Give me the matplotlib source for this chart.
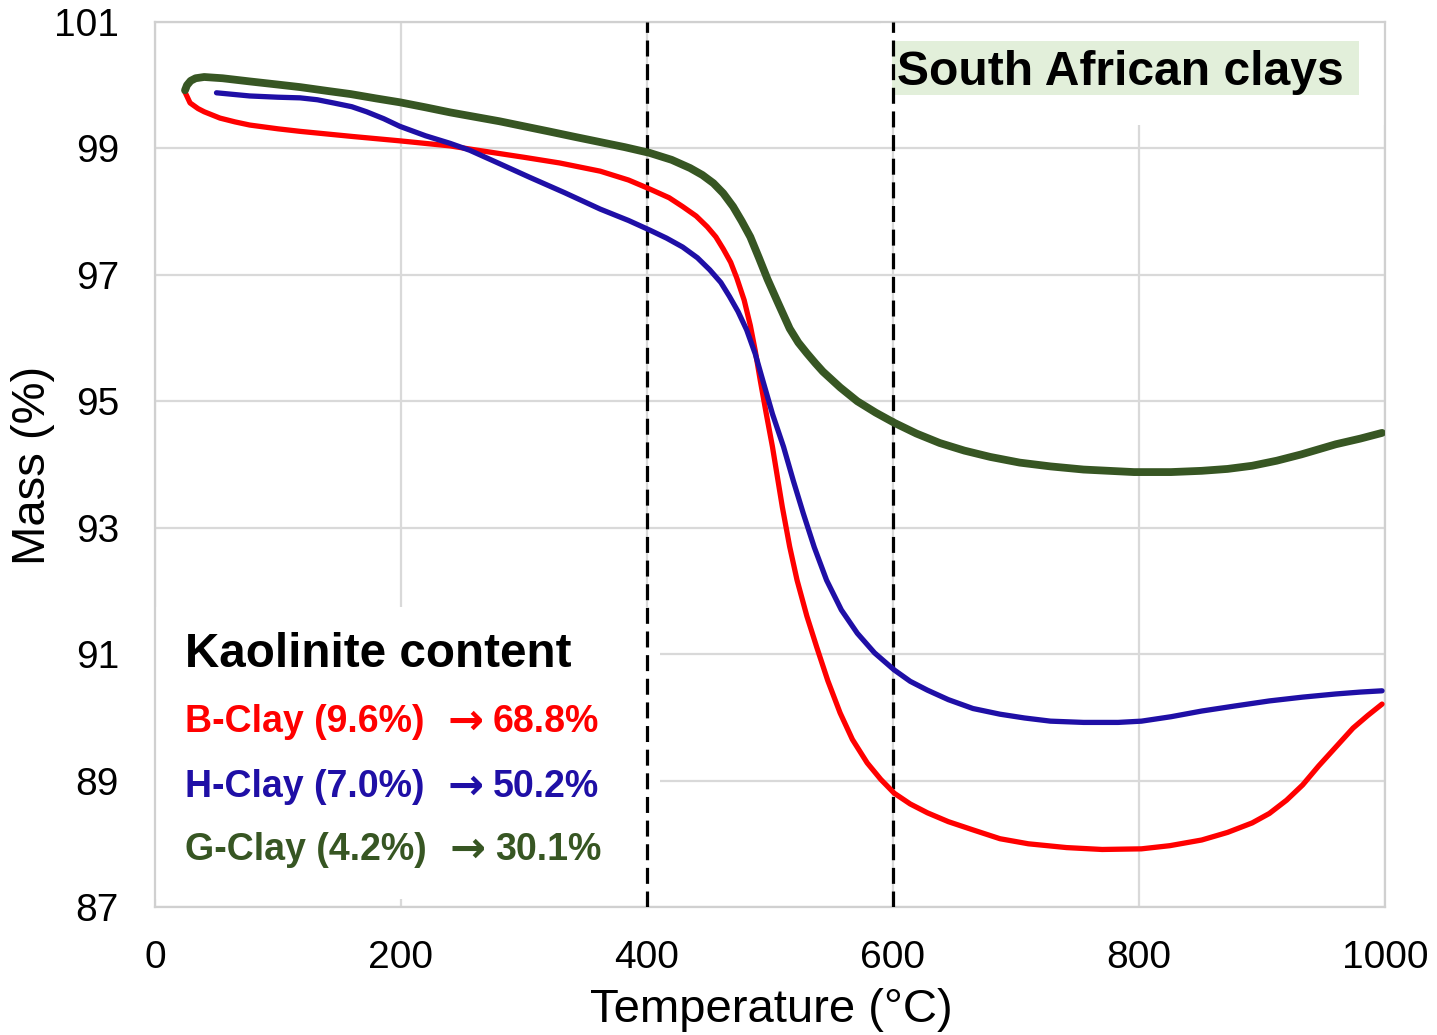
"""TGA curves of South African clays (mass loss vs temperature)"""
import matplotlib
matplotlib.use("Agg")
import matplotlib.pyplot as plt
from matplotlib.patches import Rectangle

plt.rcParams["font.family"] = ["Liberation Sans", "DejaVu Sans"]

# B-Clay (red)
b_temp = [24.4, 28.5, 35, 40, 52.8, 65, 77, 100, 118, 160, 199, 240, 256, 300,
          329, 362, 385, 402, 418, 429, 440, 449, 456, 462, 468, 473, 479, 484,
          488, 492, 497, 502, 510, 516, 522, 530, 538, 547, 557, 567, 579, 590,
          601, 614, 628, 645, 665, 687, 710, 741, 770, 802, 825, 851, 872, 892,
          906, 920, 933, 946, 960, 974, 986, 997.6]
b_mass = [99.89, 99.72, 99.63, 99.58, 99.48, 99.42, 99.37, 99.31, 99.27, 99.19,
          99.12, 99.04, 98.99, 98.86, 98.77, 98.64, 98.50, 98.36, 98.22, 98.08,
          97.93, 97.76, 97.60, 97.41, 97.20, 96.95, 96.60, 96.20, 95.80, 95.34,
          94.80, 94.28, 93.33, 92.70, 92.17, 91.60, 91.11, 90.58, 90.07, 89.65,
          89.28, 89.02, 88.80, 88.63, 88.49, 88.35, 88.22, 88.08, 88.00, 87.94,
          87.91, 87.92, 87.97, 88.06, 88.18, 88.33, 88.48, 88.69, 88.93, 89.23,
          89.53, 89.83, 90.03, 90.21]

# H-Clay (blue)
h_temp = [50, 77, 100, 118, 132, 145, 160, 172, 186, 199, 220, 240, 256, 280, 305,
          333, 362, 385, 402, 416, 429, 441, 451, 460, 467, 474, 481, 488, 494,
          502, 511, 519, 527, 536, 546, 558, 571, 585, 601, 614, 628, 645, 665,
          687, 707, 728, 755, 783, 802, 826, 851, 878, 906, 933, 960, 980, 997.6]
h_mass = [99.88, 99.83, 99.81, 99.80, 99.77, 99.72, 99.66, 99.58, 99.47, 99.35,
          99.20, 99.08, 98.97, 98.76, 98.54, 98.30, 98.04, 97.86, 97.71, 97.58,
          97.44, 97.27, 97.08, 96.88, 96.66, 96.42, 96.13, 95.75, 95.34, 94.80,
          94.28, 93.74, 93.23, 92.69, 92.17, 91.70, 91.33, 91.02, 90.75, 90.57,
          90.43, 90.28, 90.14, 90.05, 89.99, 89.94, 89.92, 89.92, 89.94, 90.01,
          90.10, 90.18, 90.26, 90.32, 90.37, 90.40, 90.42]

# G-Clay (green)
g_temp = [24.4, 26, 29, 33, 40, 55, 77, 100, 118, 140, 159, 180, 199, 220, 240,
          260, 280, 300, 320, 342, 362, 382, 402, 420, 435, 445, 454, 462, 470,
          477, 484, 491, 498, 506, 516, 523, 530, 537, 543, 557, 571, 586, 601,
          619, 638, 658, 679, 703, 728, 755, 796, 826, 851, 872, 892, 912, 932,
          946, 960, 980, 997.6]
g_mass = [99.92, 100.00, 100.07, 100.11, 100.13, 100.11, 100.06, 100.01, 99.97,
          99.91, 99.86, 99.79, 99.73, 99.65, 99.57, 99.50, 99.43, 99.35, 99.27,
          99.18, 99.10, 99.02, 98.93, 98.82, 98.69, 98.58, 98.45, 98.29, 98.08,
          97.85, 97.60, 97.27, 96.93, 96.58, 96.15, 95.93, 95.76, 95.60, 95.47,
          95.22, 95.00, 94.82, 94.66, 94.49, 94.34, 94.22, 94.12, 94.03, 93.97,
          93.92, 93.88, 93.88, 93.90, 93.93, 93.98, 94.06, 94.16, 94.24, 94.32,
          94.41, 94.50]

x_ticks = [0, 200, 400, 600, 800, 1000]
y_ticks = [87, 89, 91, 93, 95, 97, 99, 101]
marker_temps = [400, 600]

legend_title = "Kaolinite content"
legend_names = ["B-Clay (9.6%)", "H-Clay (7.0%)", "G-Clay (4.2%)"]
legend_values = ["68.8%", "50.2%", "30.1%"]

RED = "#ff0000"
BLUE = "#1f0fa6"
GREEN = "#375623"

fig = plt.figure(figsize=(14.37, 10.35), dpi=100)
ax = fig.add_axes([155 / 1437, 1 - 907 / 1035, 1230 / 1437, 885 / 1035])

ax.set_xlim(0, 1000)
ax.set_ylim(87, 101)
ax.set_xticks(x_ticks)
ax.set_yticks(y_ticks)
ax.tick_params(axis="both", length=0, labelsize=28)
ax.tick_params(axis="x", pad=24)
ax.tick_params(axis="y", pad=26)
ax.grid(True, color="#d9d9d9", linewidth=1.6)
ax.set_axisbelow(True)
for sp in ax.spines.values():
    sp.set_color("#d0d0d0")
    sp.set_linewidth(1.6)

# white boxes behind the text blocks (hide gridlines)
ax.add_patch(Rectangle((0.5, 87.12), 410, 91.75 - 87.12, facecolor="white",
                       edgecolor="none", zorder=1))
ax.add_patch(Rectangle((590, 99.37), 409.5, 101 - 99.37 - 0.02, facecolor="white",
                       edgecolor="none", zorder=1))
ax.add_patch(Rectangle((599, 99.85), 380, 100.70 - 99.85, facecolor="#e2efda",
                       edgecolor="none", zorder=1.1))

for t in marker_temps:
    ax.axvline(t, color="black", linewidth=2.3, linestyle=(0, (5, 2.4)), zorder=3)

ax.plot(b_temp, b_mass, color=RED, linewidth=3.8, solid_capstyle="round",
        solid_joinstyle="round", zorder=4)
ax.plot(h_temp, h_mass, color=BLUE, linewidth=3.8, solid_capstyle="round",
        solid_joinstyle="round", zorder=5)
ax.plot(g_temp, g_mass, color=GREEN, linewidth=5.6, solid_capstyle="round",
        solid_joinstyle="round", zorder=6)

ax.text(603.3, 100.0, "South African clays", fontsize=34.6, fontweight="bold",
        va="baseline", ha="left", zorder=7)

ax.text(24.4, 90.80, legend_title, fontsize=34.3, fontweight="bold",
        va="baseline", ha="left", zorder=7)
colors = [RED, BLUE, GREEN]
baselines = [89.77, 88.74, 87.74]
shifts = [0, 0, 1.6]
for name, val, c, yb, dx in zip(legend_names, legend_values, colors, baselines, shifts):
    ax.text(24.4, yb, name, fontsize=27, fontweight="bold", color=c,
            va="baseline", ha="left", zorder=7)
    ax.text(237.5 + dx, yb - 0.03, "\u2192", fontsize=31, fontweight="bold", color=c,
            family="DejaVu Sans", va="baseline", ha="left", zorder=7)
    ax.text(274.8 + dx, yb, val, fontsize=27, fontweight="bold", color=c,
            va="baseline", ha="left", zorder=7)

fig.text(771 / 1437, 1 - 1010 / 1035, "Temperature (\u00b0C)", fontsize=34,
         ha="center", va="center")
fig.text(33 / 1437, 1 - 465 / 1035, "Mass (%)", fontsize=34, rotation=90,
         ha="center", va="center")

fig.savefig("out.png", dpi=100)
